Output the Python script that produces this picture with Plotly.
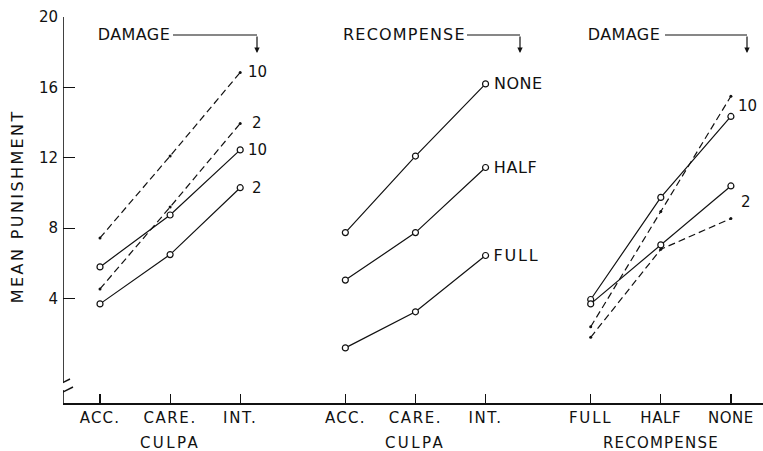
import json
import plotly.graph_objects as go

# Category labels
culpa_levels = ["ACC.", "CARE.", "INT."]
recompense_levels = ["FULL", "HALF", "NONE"]

# Panel 1: culpa x damage, for the two series styles
p1_solid_10 = [5.8, 8.75, 12.45]
p1_solid_2 = [3.7, 6.5, 10.3]
p1_dash_10 = [7.45, 12.1, 16.85]
p1_dash_2 = [4.55, 9.2, 13.95]

# Panel 2: culpa x recompense
p2_none = [7.75, 12.1, 16.2]
p2_half = [5.05, 7.75, 11.45]
p2_full = [1.2, 3.25, 6.45]

# Panel 3: recompense x damage
p3_solid_10 = [3.95, 9.75, 14.35]
p3_solid_2 = [3.7, 7.05, 10.4]
p3_dash_10 = [2.4, 8.95, 15.5]
p3_dash_2 = [1.8, 6.8, 8.55]

y_ticks = [4, 8, 12, 16, 20]

# Layout geometry (pixels)
W, H = 763, 451
M_L, M_R, M_T, M_B = 63, 0, 17, 48
PX_PER_X = 70.1
PX_PER_Y = 17.6
X0_PX = 100  # pixel of first category
Y_TOP = 20

x_lo = (M_L - X0_PX) / PX_PER_X
x_hi = (W - M_R - X0_PX) / PX_PER_X
y_lo = Y_TOP - (H - M_B - M_T) / PX_PER_Y


def dx(p):
    return (p - X0_PX) / PX_PER_X


def dy(p):
    return Y_TOP - (p - M_T) / PX_PER_Y


offsets = [0.0, 3.5, 7.0]
xs = [[o + i for i in range(3)] for o in offsets]

INK = "#111111"
FONT = "DejaVu Sans"

# Extra letter spacing (px) for the stencil-style lettering
SPACING = {
    "DAMAGE": 0.4, "RECOMPENSE": 1.2, "CULPA": 2.4,
    "ACC.": 1.2, "CARE.": 1.6, "INT.": 1.6,
    "FULL": 1.8, "HALF": 0.6, "NONE": 0.5,
    "MEAN PUNISHMENT": 2.4,
}

fig = go.Figure()


def add_series(x, y, dashed):
    if dashed:
        fig.add_trace(go.Scatter(
            x=x, y=y, mode="lines+markers",
            line=dict(color=INK, width=1.2, dash="7px,4px"),
            marker=dict(symbol="circle", size=3, color=INK),
            showlegend=False, hoverinfo="skip"))
    else:
        fig.add_trace(go.Scatter(
            x=x, y=y, mode="lines+markers",
            line=dict(color=INK, width=1.2),
            marker=dict(symbol="circle", size=6, color="white",
                        line=dict(color=INK, width=1.2)),
            showlegend=False, hoverinfo="skip"))


add_series(xs[0], p1_dash_10, True)
add_series(xs[0], p1_dash_2, True)
add_series(xs[0], p1_solid_10, False)
add_series(xs[0], p1_solid_2, False)

add_series(xs[1], p2_none, False)
add_series(xs[1], p2_half, False)
add_series(xs[1], p2_full, False)

add_series(xs[2], p3_dash_10, True)
add_series(xs[2], p3_dash_2, True)
add_series(xs[2], p3_solid_10, False)
add_series(xs[2], p3_solid_2, False)

annotations = []
num_font = dict(family=FONT, size=15, color=INK)
big_font = dict(family=FONT, size=16, color=INK)


def spread(text):
    # left-anchored text grows symmetrically when spaced; shift it back
    return SPACING.get(text, 0) * len(text) / 2


def end_label(x, y, text, xshift, font):
    annotations.append(dict(x=x, y=y, text=text, showarrow=False,
                            xanchor="left", yanchor="middle",
                            xshift=xshift + spread(text), font=font))


# Series end labels
end_label(xs[0][2], p1_dash_10[2], "10", 6, num_font)
end_label(xs[0][2], p1_dash_2[2], "2", 10, num_font)
end_label(xs[0][2], p1_solid_10[2], "10", 6, num_font)
end_label(xs[0][2], p1_solid_2[2], "2", 10, num_font)

end_label(xs[1][2], p2_none[2], "NONE", 6, big_font)
end_label(xs[1][2], p2_half[2], "HALF", 6, big_font)
end_label(xs[1][2], p2_full[2], "FULL", 6, big_font)

end_label(xs[2][2], (p3_dash_10[2] + p3_solid_10[2]) / 2, "10", 5, num_font)
end_label(xs[2][2], (p3_dash_2[2] + p3_solid_2[2]) / 2, "2", 8, num_font)

shapes = []
line_style = dict(color=INK, width=1.2)

# Panel headers with bent arrows
headers = [("DAMAGE", 96, 173, 257), ("RECOMPENSE", 341, 467, 520),
           ("DAMAGE", 586, 665, 747)]
for text, tx, l0, l1 in headers:
    annotations.append(dict(x=dx(tx), y=dy(34), text=text, showarrow=False,
                            xanchor="left", yanchor="middle",
                            xshift=spread(text), font=big_font))
    shapes.append(dict(type="line", x0=dx(l0), x1=dx(l1), y0=dy(35), y1=dy(35),
                       line=line_style))
    annotations.append(dict(x=dx(l1), y=dy(53), ax=dx(l1), ay=dy(35),
                            axref="x", ayref="y", text="", showarrow=True,
                            arrowhead=2, arrowsize=0.9, arrowwidth=1.2,
                            arrowcolor=INK))

# Group titles under the axis
for x, text in [(xs[0][1], "CULPA"), (xs[1][1], "CULPA"), (xs[2][1], "RECOMPENSE")]:
    annotations.append(dict(x=x, y=0, yref="paper", text=text, showarrow=False,
                            xanchor="center", yanchor="middle", yshift=-40,
                            font=num_font))

# Y axis title
annotations.append(dict(x=0, xref="paper", y=0.51, yref="paper",
                        text="MEAN PUNISHMENT", textangle=-90, showarrow=False,
                        xanchor="center", yanchor="middle", xshift=-46,
                        font=big_font))

# Vertical axis line with a break near the bottom
shapes.append(dict(type="line", x0=dx(63), x1=dx(63), y0=dy(17), y1=dy(382),
                   line=dict(color=INK, width=1.6)))
shapes.append(dict(type="line", x0=dx(63), x1=dx(63), y0=dy(390), y1=dy(403),
                   line=dict(color=INK, width=1.6)))
shapes.append(dict(type="line", x0=dx(56), x1=dx(70), y0=dy(386), y1=dy(379),
                   line=dict(color=INK, width=1.4)))
shapes.append(dict(type="line", x0=dx(59), x1=dx(73), y0=dy(394), y1=dy(387),
                   line=dict(color=INK, width=1.4)))

tickvals = xs[0] + xs[1] + xs[2]
ticktext = culpa_levels + culpa_levels + recompense_levels

fig.update_layout(
    width=W, height=H,
    margin=dict(l=M_L, r=M_R, t=M_T, b=M_B, pad=0),
    paper_bgcolor="white", plot_bgcolor="white",
    font=dict(family=FONT, size=15, color=INK),
    xaxis=dict(range=[x_lo, x_hi], tickvals=tickvals, ticktext=ticktext,
               ticks="inside", ticklen=9, tickwidth=1.2, tickcolor=INK,
               showline=True, linecolor=INK, linewidth=1.6,
               showgrid=False, zeroline=False, tickfont=dict(size=15),
               fixedrange=True),
    yaxis=dict(range=[y_lo, Y_TOP], tickvals=y_ticks,
               ticks="inside", ticklen=12, tickwidth=1.2, tickcolor=INK,
               showline=False, showgrid=False, zeroline=False,
               tickfont=dict(size=15), ticklabelstandoff=4, fixedrange=True),
    annotations=annotations,
    shapes=shapes,
)

# Apply the letter spacing to the rendered SVG text
post = """
var gd = document.getElementById('{plot_id}');
var sp = %s;
function spaceText() {
  gd.querySelectorAll('text').forEach(function (t) {
    var k = t.textContent;
    if (Object.prototype.hasOwnProperty.call(sp, k)) {
      t.setAttribute('letter-spacing', sp[k] + 'px');
    }
  });
}
spaceText();
gd.on('plotly_afterplot', spaceText);
""" % json.dumps(SPACING)

fig.write_html("out.html", post_script=post, config={"staticPlot": True})
